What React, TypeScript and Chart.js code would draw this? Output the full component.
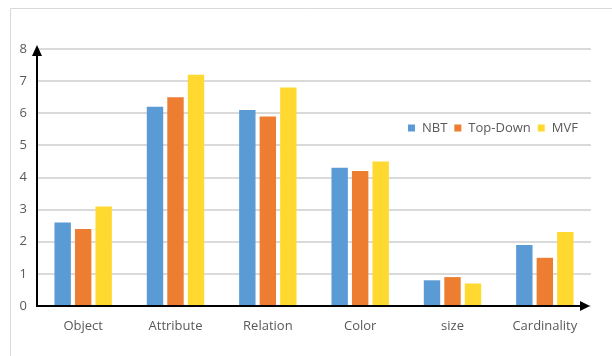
import React, { useEffect, useRef } from "react";
import { Chart, registerables } from "chart.js";

Chart.register(...registerables);

const categories = ["Object", "Attribute", "Relation", "Color", "size", "Cardinality"];
const nbt = [2.6, 6.2, 6.1, 4.3, 0.8, 1.9];
const topDown = [2.4, 6.5, 5.9, 4.2, 0.9, 1.5];
const mvf = [3.1, 7.2, 6.8, 4.5, 0.7, 2.3];
const seriesNames = ["NBT", "Top-Down", "MVF"];
const seriesColors = ["#5B9BD5", "#ED7D31", "#FFD92F"];
const yTicks = [0, 1, 2, 3, 4, 5, 6, 7, 8];

const FONT = "'Open Sans', 'Noto Sans', sans-serif";
const TEXT = "#595959";

const framePlugin = {
  id: "frame",
  beforeDraw(chart: any) {
    const ctx = chart.ctx;
    ctx.save();
    ctx.fillStyle = "#ffffff";
    ctx.fillRect(0, 0, chart.width, chart.height);
    ctx.strokeStyle = "#D9D9D9";
    ctx.lineWidth = 1;
    ctx.beginPath();
    ctx.moveTo(10.5, chart.height);
    ctx.lineTo(10.5, 8.5);
    ctx.lineTo(chart.width, 8.5);
    ctx.stroke();
    ctx.restore();
  },
};

const axesPlugin = {
  id: "arrowAxes",
  afterDatasetsDraw(chart: any) {
    const { ctx, chartArea } = chart;
    const { left, right, top, bottom } = chartArea;
    ctx.save();
    ctx.strokeStyle = "#000";
    ctx.fillStyle = "#000";
    ctx.lineWidth = 2;
    ctx.beginPath();
    ctx.moveTo(left, bottom);
    ctx.lineTo(left, top + 4);
    ctx.moveTo(left - 1, bottom);
    ctx.lineTo(right - 6, bottom);
    ctx.stroke();
    ctx.beginPath();
    ctx.moveTo(left, top - 4);
    ctx.lineTo(left - 5, top + 7);
    ctx.lineTo(left + 5, top + 7);
    ctx.closePath();
    ctx.fill();
    ctx.beginPath();
    ctx.moveTo(right - 1, bottom);
    ctx.lineTo(right - 11, bottom - 5);
    ctx.lineTo(right - 11, bottom + 5);
    ctx.closePath();
    ctx.fill();
    ctx.restore();
  },
};

const legendPlugin = {
  id: "floatLegend",
  afterDraw(chart: any) {
    const ctx = chart.ctx;
    ctx.save();
    ctx.font = `13px ${FONT}`;
    ctx.textBaseline = "middle";
    ctx.textAlign = "left";
    let x = 408;
    const cy = 128;
    chart.data.datasets.forEach((ds: any) => {
      ctx.fillStyle = ds.backgroundColor;
      ctx.fillRect(x, cy - 3.5, 7, 7);
      x += 14;
      ctx.fillStyle = TEXT;
      ctx.fillText(ds.label, x, cy);
      x += ctx.measureText(ds.label).width + 7;
    });
    ctx.restore();
  },
};

export default function App() {
  const ref = useRef<HTMLCanvasElement>(null);
  useEffect(() => {
    if (!ref.current) return;
    const data = [nbt, topDown, mvf];
    const chart = new Chart(ref.current, {
      type: "bar",
      data: {
        labels: categories,
        datasets: seriesNames.map((name, i) => ({
          label: name,
          data: data[i],
          backgroundColor: seriesColors[i],
          barPercentage: 0.8,
          categoryPercentage: 0.666,
        })),
      },
      options: {
        animation: false,
        responsive: false,
        maintainAspectRatio: false,
        layout: { padding: { left: 0, right: 21, top: 49, bottom: 0 } },
        plugins: { legend: { display: false }, tooltip: { enabled: false } },
        scales: {
          x: {
            grid: { display: false, drawTicks: false },
            border: { display: false },
            ticks: { color: TEXT, font: { family: FONT, size: 13 }, padding: 12 },
            afterFit(scale: any) {
              scale.height = 50;
            },
          },
          y: {
            min: 0,
            max: 8,
            afterBuildTicks(scale: any) {
              scale.ticks = yTicks.map((v) => ({ value: v }));
            },
            grid: { color: "#DADADA", lineWidth: 2, drawTicks: false },
            border: { display: false },
            ticks: { color: TEXT, font: { family: FONT, size: 13 }, padding: 10 },
            afterFit(scale: any) {
              scale.width = 37;
            },
          },
        },
      },
      plugins: [framePlugin, axesPlugin, legendPlugin],
    });
    return () => chart.destroy();
  }, []);
  return (
    <div style={{ position: "fixed", left: 0, top: 0, width: 612, height: 356 }}>
      <canvas ref={ref} width={612} height={356} style={{ display: "block" }} />
    </div>
  );
}
